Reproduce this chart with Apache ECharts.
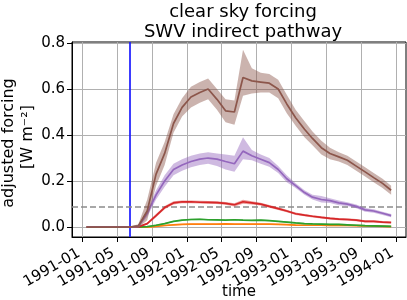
<!DOCTYPE html>
<html>
<head>
<meta charset="utf-8">
<script src="https://cdn.jsdelivr.net/npm/echarts@6/dist/echarts.min.js"></script>
<style>html,body{margin:0;padding:0;background:#fff;}#c{width:407px;height:300px;}</style>
</head>
<body>
<div id="c"></div>
<script>
// ---- data ----
const months = ['1991-01','1991-02','1991-03','1991-04','1991-05','1991-06','1991-07','1991-08','1991-09','1991-10','1991-11','1991-12',
 '1992-01','1992-02','1992-03','1992-04','1992-05','1992-06','1992-07','1992-08','1992-09','1992-10','1992-11','1992-12',
 '1993-01','1993-02','1993-03','1993-04','1993-05','1993-06','1993-07','1993-08','1993-09','1993-10','1993-11','1993-12'];
const tickLabels = ['1991-01','1991-05','1991-09','1992-01','1992-05','1992-09','1993-01','1993-05','1993-09','1994-01'];
const yTicks = [0.0, 0.2, 0.4, 0.6, 0.8];
const eruptionDate = '1991-06-15';
const thresholdValue = 0.093;

const brownMean = [0,0,0,0,0,0,0.005,0.07,0.23,0.32,0.45,0.52,0.565,0.585,0.60,0.555,0.505,0.50,0.65,0.635,0.63,0.625,0.60,0.535,0.475,0.425,0.385,0.345,0.32,0.305,0.29,0.265,0.24,0.215,0.19,0.16];
const brownHi   = [0.003,0.003,0.003,0.003,0.003,0.003,0.012,0.12,0.28,0.37,0.49,0.56,0.61,0.63,0.645,0.60,0.555,0.55,0.77,0.69,0.67,0.665,0.64,0.575,0.51,0.46,0.415,0.375,0.345,0.325,0.31,0.285,0.26,0.235,0.21,0.18];
const brownLo   = [-0.003,-0.003,-0.003,-0.003,-0.003,-0.003,-0.003,0.03,0.18,0.27,0.41,0.48,0.52,0.54,0.555,0.51,0.455,0.445,0.57,0.58,0.585,0.585,0.56,0.495,0.44,0.39,0.355,0.315,0.295,0.285,0.27,0.245,0.22,0.195,0.17,0.14];

const purpleMean = [0,0,0,0,0,0,0.003,0.06,0.14,0.20,0.25,0.27,0.285,0.295,0.30,0.295,0.285,0.275,0.33,0.31,0.295,0.28,0.25,0.21,0.18,0.15,0.13,0.12,0.115,0.105,0.10,0.09,0.075,0.07,0.06,0.05];
const purpleHi   = [0.002,0.002,0.002,0.002,0.002,0.002,0.008,0.075,0.16,0.225,0.275,0.295,0.31,0.32,0.325,0.32,0.315,0.31,0.39,0.335,0.315,0.30,0.265,0.225,0.19,0.16,0.14,0.135,0.125,0.115,0.108,0.098,0.083,0.078,0.067,0.057];
const purpleLo   = [-0.002,-0.002,-0.002,-0.002,-0.002,-0.002,-0.002,0.045,0.12,0.175,0.225,0.245,0.26,0.27,0.275,0.265,0.25,0.24,0.295,0.29,0.275,0.262,0.235,0.195,0.17,0.14,0.12,0.107,0.105,0.095,0.092,0.082,0.067,0.062,0.053,0.043];

const redMean   = [0,0,0,0,0,0,0.001,0.015,0.05,0.085,0.105,0.11,0.11,0.108,0.107,0.106,0.103,0.097,0.11,0.105,0.10,0.09,0.08,0.07,0.058,0.052,0.047,0.042,0.038,0.035,0.033,0.03,0.025,0.025,0.022,0.02];
const redSpread = [0.001,0.001,0.001,0.001,0.001,0.001,0.002,0.005,0.007,0.007,0.007,0.006,0.006,0.006,0.006,0.006,0.006,0.007,0.009,0.007,0.006,0.006,0.006,0.005,0.005,0.005,0.005,0.005,0.005,0.005,0.005,0.005,0.005,0.005,0.005,0.005];

const greenMean = [0,0,0,0,0,0,0,0.002,0.008,0.015,0.025,0.03,0.033,0.034,0.032,0.031,0.03,0.032,0.03,0.029,0.03,0.028,0.025,0.022,0.018,0.015,0.014,0.013,0.012,0.012,0.01,0.008,0.006,0.005,0.004,0.003];
const orangeMean = [0,0,0,0,0,0,0,0,0.003,0.007,0.01,0.012,0.013,0.013,0.013,0.013,0.014,0.013,0.013,0.013,0.013,0.013,0.012,0.011,0.009,0.008,0.008,0.008,0.007,0.007,0.007,0.006,0.005,0.004,0.003,0.002];
const smallSpread = [0,0,0,0,0,0,0,0.002,0.003,0.003,0.003,0.003,0.003,0.003,0.003,0.003,0.003,0.003,0.003,0.003,0.003,0.003,0.003,0.003,0.003,0.003,0.003,0.003,0.003,0.003,0.003,0.003,0.003,0.003,0.003,0.003];

// ---- helpers ----
function ts(s) { const p = s.split('-').map(Number); return Date.UTC(p[0], p[1]-1, p.length > 2 ? p[2] : 1); }
const times = months.map(m => ts(m + '-15'));
const tickTimes = tickLabels.map(ts);

const C = {orange:'#ff7f0e', green:'#2ca02c', red:'#d62728', purple:'#9467bd', brown:'#8c564b'};
const FONT = 'DejaVu Sans';

function band(lo, hi, color, z) {
  return {
    type: 'custom', coordinateSystem: 'cartesian2d', silent: true, z: z,
    data: times.map((t, i) => [t, lo[i], hi[i]]),
    encode: {x: 0, y: [1, 2]},
    renderItem: function (params, api) {
      if (params.dataIndex !== 0) return null;
      const pts = [];
      for (let i = 0; i < times.length; i++) pts.push(api.coord([times[i], hi[i]]));
      for (let i = times.length - 1; i >= 0; i--) pts.push(api.coord([times[i], lo[i]]));
      return {type: 'polygon', shape: {points: pts}, style: {fill: color, opacity: 0.45}};
    }
  };
}
function line(vals, color, z) {
  return {type: 'line', data: times.map((t, i) => [t, vals[i]]), symbol: 'none', z: z,
          lineStyle: {color: color, width: 1.7}, itemStyle: {color: color}, silent: true};
}
const lo = (m, s) => m.map((v, i) => v - s[i]);
const hi = (m, s) => m.map((v, i) => v + s[i]);

const chart = echarts.init(document.getElementById('c'), null, {renderer: 'canvas'});
chart.setOption({
  animation: false,
  backgroundColor: '#fff',
  title: {
    text: 'clear sky forcing\nSWV indirect pathway',
    left: 238, top: -3, textAlign: 'center',
    textStyle: {fontFamily: FONT, fontSize: 18, fontWeight: 'normal', color: '#000', lineHeight: 20}
  },
  grid: {left: 72, right: 1, top: 42, bottom: 63, show: true, borderColor: '#000', borderWidth: 1, backgroundColor: 'transparent'},
  xAxis: {
    type: 'value', min: Date.UTC(1990, 10, 25), max: Date.UTC(1994, 1, 5),
    axisLine: {show: true, onZero: false, lineStyle: {color: '#000', width: 1}},
    axisTick: {show: true, customValues: tickTimes, length: 5, lineStyle: {color: '#000'}},
    axisLabel: {customValues: tickTimes, rotate: 30, margin: 13, padding: [0, 4, 0, 0], fontFamily: FONT, fontSize: 15, color: '#000',
      formatter: function (v) { const i = tickTimes.indexOf(v); return i >= 0 ? tickLabels[i] : ''; }},
    splitLine: {show: true, lineStyle: {color: '#b0b0b0', width: 1}}
  },
  yAxis: {
    type: 'value', min: -0.043, max: 0.804,
    axisLine: {show: true, onZero: false, lineStyle: {color: '#000', width: 1}},
    axisTick: {show: true, customValues: yTicks, length: 5, lineStyle: {color: '#000'}},
    axisLabel: {customValues: yTicks, margin: 7, fontFamily: FONT, fontSize: 15, color: '#000',
      formatter: v => v.toFixed(1)},
    splitLine: {show: true, lineStyle: {color: '#b0b0b0', width: 1}}
  },
  graphic: [
    {type: 'text', x: 9, y: 143, rotation: Math.PI / 2,
     style: {text: 'adjusted forcing', fontFamily: FONT, fontSize: 16, fill: '#000', align: 'center', verticalAlign: 'middle'}},
    {type: 'text', x: 28, y: 137, rotation: Math.PI / 2,
     style: {text: '[W m\u207B\u00B2]', fontFamily: FONT, fontSize: 16, fill: '#000', align: 'center', verticalAlign: 'middle'}},
    {type: 'text', x: 239, y: 292,
     style: {text: 'time', fontFamily: FONT, fontSize: 15, fill: '#000', align: 'center', verticalAlign: 'middle'}}
  ],
  series: [
    band(lo(orangeMean, smallSpread), hi(orangeMean, smallSpread), C.orange, 2),
    line(orangeMean, C.orange, 3),
    band(lo(greenMean, smallSpread), hi(greenMean, smallSpread), C.green, 4),
    line(greenMean, C.green, 5),
    band(lo(redMean, redSpread), hi(redMean, redSpread), C.red, 6),
    line(redMean, C.red, 7),
    band(purpleLo, purpleHi, C.purple, 8),
    line(purpleMean, C.purple, 9),
    band(brownLo, brownHi, C.brown, 10),
    Object.assign(line(brownMean, C.brown, 11), {
      markLine: {
        silent: true, symbol: 'none', label: {show: false},
        data: [
          {xAxis: ts(eruptionDate), lineStyle: {color: '#1a1aff', width: 1.7, type: 'solid'}},
          {yAxis: thresholdValue, lineStyle: {color: '#8c8c8c', width: 1.6, type: [6, 3]}}
        ]
      }
    })
  ]
});
</script>
</body>
</html>
